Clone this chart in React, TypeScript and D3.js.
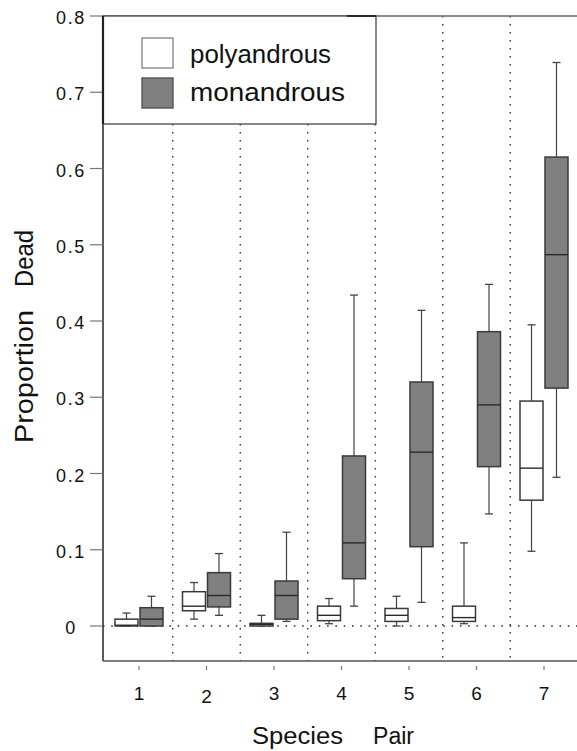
import React, { useRef, useEffect } from "react";
import * as d3 from "d3";

// species pairs on the x axis
const pairs = [1, 2, 3, 4, 5, 6, 7];

// box stats per pair: [lower whisker, q1, median, q3, upper whisker]
const polyandrous = [
  [0, 0, 0.001, 0.009, 0.017],
  [0.009, 0.02, 0.026, 0.045, 0.057],
  [0, 0, 0.002, 0.0035, 0.014],
  [0.003, 0.007, 0.014, 0.026, 0.036],
  [0, 0.006, 0.014, 0.023, 0.039],
  [0.003, 0.006, 0.011, 0.026, 0.109],
  [0.098, 0.165, 0.207, 0.295, 0.395],
];

const monandrous = [
  [0, 0, 0.009, 0.024, 0.039],
  [0.014, 0.025, 0.04, 0.07, 0.095],
  [0.006, 0.009, 0.04, 0.059, 0.123],
  [0.026, 0.062, 0.109, 0.223, 0.434],
  [0.031, 0.104, 0.228, 0.32, 0.414],
  [0.147, 0.209, 0.29, 0.386, 0.448],
  [0.195, 0.312, 0.487, 0.615, 0.739],
];

const yTicks = [0, 0.1, 0.2, 0.3, 0.4, 0.5, 0.6, 0.7, 0.8];
const yTickLabels = ["0", "0.1", "0.2", "0.3", "0.4", "0.5", "0.6", "0.7", "0.8"];
const seriesNames = ["polyandrous", "monandrous"];

const App = () => {
  const container = useRef(null);

  const width = 577;
  const height = 751;
  const left = 103;
  const top = 16;
  const bottom = 661;
  const legendRight = 376;
  const legendBottom = 124;
  const font = "'Liberation Sans', Arial, Helvetica, sans-serif";

  useEffect(() => {
    const svg = d3.select(container.current);
    svg.selectAll("*").remove();

    const x = d3.scaleLinear().domain([1, 7]).range([139, 544]);
    const y = d3.scaleLinear().domain([0, 0.8]).range([626, 16]);

    // separators between pairs
    d3.range(1.5, 7, 1).forEach((s) => {
      const sx = x(s);
      svg
        .append("line")
        .attr("x1", sx)
        .attr("x2", sx)
        .attr("y1", sx < legendRight ? legendBottom : top)
        .attr("y2", bottom)
        .attr("stroke", "#222")
        .attr("stroke-width", 1.3)
        .attr("stroke-dasharray", "1.5 6.5");
    });

    // zero line
    svg
      .append("line")
      .attr("x1", left)
      .attr("x2", width)
      .attr("y1", y(0))
      .attr("y2", y(0))
      .attr("stroke", "#222")
      .attr("stroke-width", 1.4)
      .attr("stroke-dasharray", "1.5 6.8");

    // boxes
    const boxW = 23;
    const drawBoxes = (stats, offset, fill) => {
      stats.forEach((s, i) => {
        const cx = x(pairs[i]) + offset;
        const g = svg.append("g");
        // whiskers
        g.append("line")
          .attr("x1", cx).attr("x2", cx)
          .attr("y1", y(s[3])).attr("y2", y(s[4]))
          .attr("stroke", "#444").attr("stroke-width", 1.2);
        g.append("line")
          .attr("x1", cx).attr("x2", cx)
          .attr("y1", y(s[0])).attr("y2", y(s[1]))
          .attr("stroke", "#444").attr("stroke-width", 1.2);
        [s[0], s[4]].forEach((v) => {
          g.append("line")
            .attr("x1", cx - 4).attr("x2", cx + 4)
            .attr("y1", y(v)).attr("y2", y(v))
            .attr("stroke", "#444").attr("stroke-width", 1.3);
        });
        g.append("rect")
          .attr("x", cx - boxW / 2)
          .attr("y", y(s[3]))
          .attr("width", boxW)
          .attr("height", Math.max(1, y(s[1]) - y(s[3])))
          .attr("fill", fill)
          .attr("stroke", "#3a3a3a")
          .attr("stroke-width", 1.5);
        g.append("line")
          .attr("x1", cx - boxW / 2).attr("x2", cx + boxW / 2)
          .attr("y1", y(s[2])).attr("y2", y(s[2]))
          .attr("stroke", "#2a2a2a").attr("stroke-width", 1.4);
      });
    };
    drawBoxes(polyandrous, -12.5, "#ffffff");
    drawBoxes(monandrous, 12.5, "#808080");

    // frame: left axis, bottom axis, top line
    svg.append("line")
      .attr("x1", left).attr("x2", left).attr("y1", top).attr("y2", bottom)
      .attr("stroke", "#333").attr("stroke-width", 1.6);
    svg.append("line")
      .attr("x1", left).attr("x2", width).attr("y1", bottom).attr("y2", bottom)
      .attr("stroke", "#555").attr("stroke-width", 1.4);
    svg.append("line")
      .attr("x1", left).attr("x2", width).attr("y1", top).attr("y2", top)
      .attr("stroke", "#666").attr("stroke-width", 1.4);

    // y ticks
    yTicks.forEach((t, i) => {
      svg.append("line")
        .attr("x1", left - 13).attr("x2", left)
        .attr("y1", y(t)).attr("y2", y(t))
        .attr("stroke", "#777").attr("stroke-width", 1.2);
      svg.append("text")
        .attr("x", 71)
        .attr("y", y(t) + 8)
        .attr("text-anchor", "middle")
        .style("font-family", font)
        .style("font-size", "18px")
        .style("letter-spacing", "1.6px")
        .style("fill", "#111")
        .text(yTickLabels[i]);
    });

    // x ticks
    pairs.forEach((p) => {
      svg.append("line")
        .attr("x1", x(p)).attr("x2", x(p))
        .attr("y1", bottom + 5).attr("y2", bottom + 9)
        .attr("stroke", "#777").attr("stroke-width", 1.2);
      svg.append("text")
        .attr("x", x(p))
        .attr("y", p === 2 ? 703 : 700)
        .attr("text-anchor", "middle")
        .style("font-family", font)
        .style("font-size", "19px")
        .style("fill", "#111")
        .text(p);
    });

    // axis titles
    const title = (txt, tx, ty, rot, len, size) =>
      svg.append("text")
        .attr("transform", `translate(${tx},${ty}) rotate(${rot})`)
        .attr("textLength", len)
        .attr("lengthAdjust", "spacingAndGlyphs")
        .style("font-family", font)
        .style("font-size", `${size}px`)
        .style("fill", "#111")
        .text(txt);
    title("Species", 252, 744, 0, 91, 23);
    title("Pair", 373, 744, 0, 41, 23);
    title("Proportion", 33, 443, -90, 133, 26);
    title("Dead", 33, 287, -90, 57, 26);

    // legend
    svg.append("rect")
      .attr("x", left).attr("y", top)
      .attr("width", legendRight - left).attr("height", legendBottom - top)
      .attr("fill", "#fff").attr("stroke", "#555").attr("stroke-width", 1.4);
    svg.append("line")
      .attr("x1", left).attr("x2", left).attr("y1", top).attr("y2", legendBottom)
      .attr("stroke", "#222").attr("stroke-width", 2.2);
    svg.append("line")
      .attr("x1", 347).attr("x2", legendRight).attr("y1", top).attr("y2", top)
      .attr("stroke", "#222").attr("stroke-width", 1.8);

    const legend = svg.append("g");
    legend
      .selectAll("rect")
      .data(seriesNames)
      .enter()
      .append("rect")
      .attr("x", 142)
      .attr("y", (d, i) => 38 + i * 40)
      .attr("width", 31)
      .attr("height", 30)
      .attr("fill", (d, i) => (i === 0 ? "#ffffff" : "#808080"))
      .attr("stroke", (d, i) => (i === 0 ? "#888" : "#555"))
      .attr("stroke-width", 1.4);
    legend
      .selectAll("text")
      .data(seriesNames)
      .enter()
      .append("text")
      .attr("x", 190)
      .attr("y", (d, i) => 63 + i * 38)
      .attr("textLength", (d, i) => (i === 0 ? 141 : 155))
      .attr("lengthAdjust", "spacingAndGlyphs")
      .style("font-family", font)
      .style("font-size", "26px")
      .style("fill", "#111")
      .text((d) => d);
  }, []);

  return (
    <div style={{ position: "absolute", left: 0, top: 0, width: width, height: height }}>
      <svg ref={container} width={width} height={height} style={{ display: "block", background: "#fff" }} />
    </div>
  );
};

export default App;
